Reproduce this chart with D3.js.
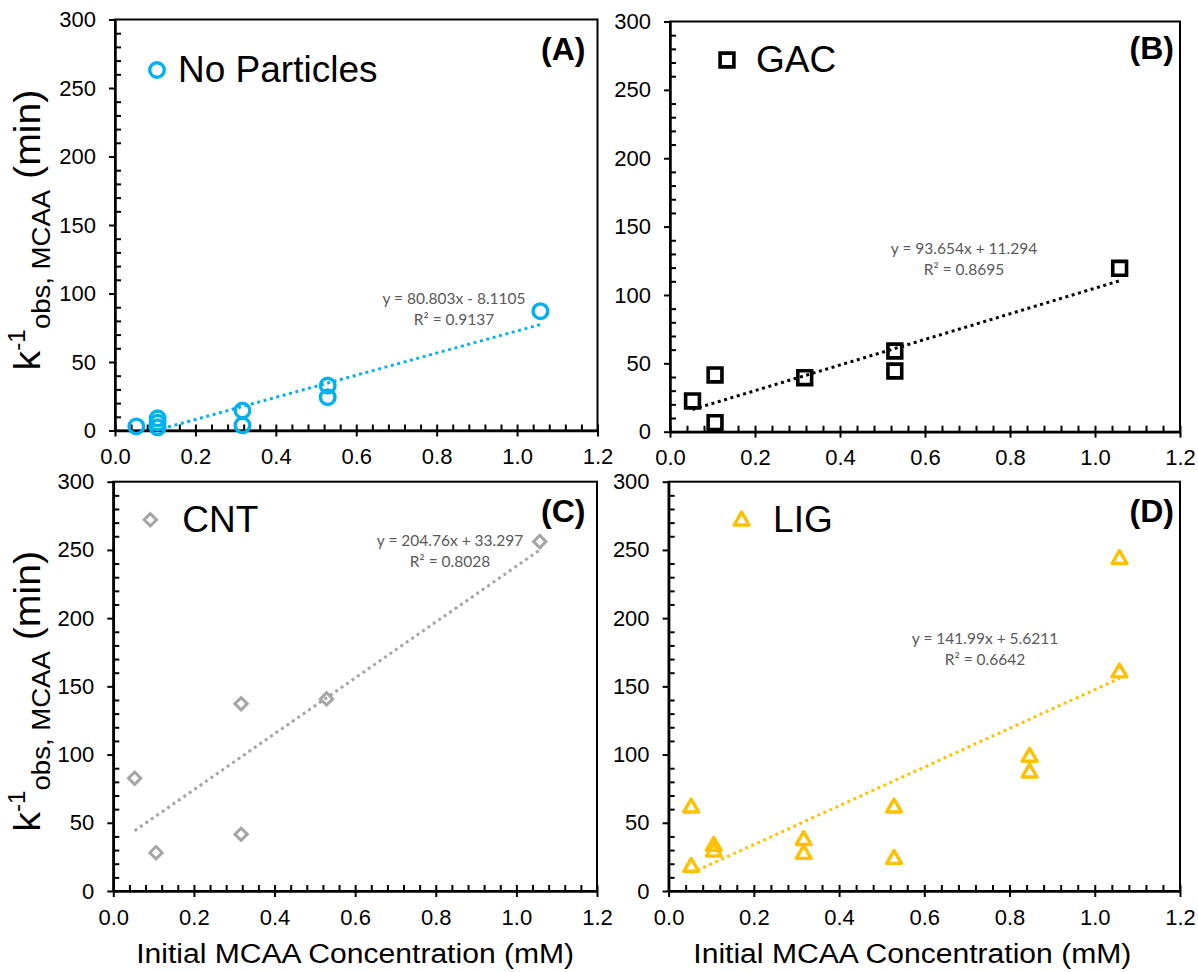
<!DOCTYPE html>
<html>
<head>
<meta charset="utf-8">
<script src="https://cdn.jsdelivr.net/npm/d3@7"></script>
<style>
  body { margin: 0; background: #fff; }
  svg { display: block; font-family: "Liberation Sans", Arial, sans-serif; }
  .tick text { font-size: 22px; fill: #000; }
  .eq { font-family: Lato, "Open Sans", sans-serif; font-size: 15.5px; fill: #595959; }
</style>
</head>
<body>
<svg width="1198" height="972"></svg>
<script>
// tick labels
const xTicks = [0, 0.2, 0.4, 0.6, 0.8, 1.0, 1.2];
const yTicks = [0, 50, 100, 150, 200, 250, 300];

// initial MCAA (mM) vs 1/k_obs (min)
const noPartX = [0.053, 0.106, 0.106, 0.106, 0.317, 0.317, 0.529, 0.529, 1.058];
const noPartY = [3.0, 8.9, 5.7, 2.3, 14.6, 3.8, 32.8, 24.3, 87.1];
const gacX = [0.053, 0.106, 0.106, 0.317, 0.529, 0.529, 1.058];
const gacY = [22.5, 41.5, 6.6, 39.5, 59.0, 44.4, 119.5];
const cntX = [0.053, 0.106, 0.317, 0.317, 0.529, 1.058];
const cntY = [82.6, 28.1, 137.3, 41.6, 140.8, 256.1];
const ligX = [0.053, 0.053, 0.106, 0.106, 0.317, 0.317, 0.529, 0.529, 0.847, 0.847, 1.058, 1.058];
const ligY = [61.8, 18.3, 33.7, 29.5, 38.0, 27.8, 61.8, 24.1, 99.0, 87.4, 243.9, 160.8];

// linear trendlines as printed on the chart
const fitSlope = [80.803, 93.654, 204.76, 141.99];
const fitIntercept = [-8.1105, 11.294, 33.297, 5.6211];
const fitEq = ["y = 80.803x - 8.1105", "y = 93.654x + 11.294", "y = 204.76x + 33.297", "y = 141.99x + 5.6211"];
const fitR2 = ["R\u00B2 = 0.9137", "R\u00B2 = 0.8695", "R\u00B2 = 0.8028", "R\u00B2 = 0.6642"];

const seriesNames = ["No Particles", "GAC", "CNT", "LIG"];
const panelTags = ["(A)", "(B)", "(C)", "(D)"];

// layout of each panel (pixels)
var panels = [
  {x0: 115, x1: 597.5, y0: 19.5, y1: 430.5, xs: noPartX, ys: noPartY, color: "#00B0F0", shape: "circle",
   leg: [42, 50.5, 21], tag: [12, 40], eq: [454, 304], yTitle: true, xTitle: false},
  {x0: 670, x1: 1180, y0: 21.5, y1: 431.7, xs: gacX, ys: gacY, color: "#000000", shape: "square",
   leg: [57, 38.5, 29], tag: [6, 37], eq: [964, 254], yTitle: false, xTitle: false},
  {x0: 113.3, x1: 597, y0: 481.7, y1: 891, xs: cntX, ys: cntY, color: "#A5A5A5", shape: "diamond",
   leg: [37, 38, 32], tag: [11.5, 40.5], eq: [450, 546], yTitle: true, xTitle: true},
  {x0: 668.6, x1: 1180, y0: 481.7, y1: 891, xs: ligX, ys: ligY, color: "#FFC000", shape: "triangle",
   leg: [73, 38, 31.5], tag: [6, 40.5], eq: [985, 644], yTitle: false, xTitle: true}
];

var svg = d3.select("svg");

function marker(sel, shape, color) {
  if (shape == "circle") {
    sel.append("circle").attr("r", 7.3)
      .attr("fill", "none").attr("stroke", color).attr("stroke-width", 3.4);
  } else if (shape == "square") {
    sel.append("path").attr("d", d3.symbol(d3.symbolSquare, 190)())
      .attr("fill", "none").attr("stroke", color).attr("stroke-width", 3.6);
  } else if (shape == "diamond") {
    sel.append("path").attr("d", d3.symbol(d3.symbolSquare, 76)())
      .attr("transform", "rotate(45)")
      .attr("fill", "none").attr("stroke", color).attr("stroke-width", 3);
  } else {
    sel.append("path").attr("d", d3.symbol(d3.symbolTriangle, 95)())
      .attr("transform", "translate(0,1)")
      .attr("fill", "none").attr("stroke", color).attr("stroke-width", 3.4)
      .attr("stroke-linejoin", "round");
  }
}

panels.forEach(function(p, i) {
  var w = p.x1 - p.x0, h = p.y1 - p.y0;
  var x = d3.scaleLinear().domain([0, 1.2]).range([0, w]);
  var y = d3.scaleLinear().domain([0, 300]).range([h, 0]);

  var g = svg.append("g").attr("transform", "translate(" + p.x0 + "," + p.y0 + ")");

  g.append("clipPath").attr("id", "clip" + i)
    .append("rect").attr("width", w).attr("height", h);

  // frame
  g.append("rect").attr("width", w).attr("height", h)
    .attr("fill", "none").attr("stroke", "#000").attr("stroke-width", 2);

  // y axis: major ticks outside, minor ticks inside
  var yMinor = d3.range(10, 300, 10).filter(v => v % 50 != 0);
  g.append("g").call(d3.axisLeft(y).tickValues(yTicks).tickSize(6).tickSizeOuter(0).tickPadding(13))
    .call(a => a.select(".domain").attr("stroke-width", 2.5));
  g.append("g").call(d3.axisRight(y).tickValues(yMinor).tickSize(6).tickSizeOuter(0).tickFormat(""))
    .call(a => a.select(".domain").remove());

  // x axis: major ticks cross the line, minor ticks inside
  var xMinor = d3.range(1, 30).map(k => k * 0.04).filter(v => Math.abs(v / 0.2 - Math.round(v / 0.2)) > 1e-6);
  g.append("g").attr("transform", "translate(0," + h + ")")
    .call(d3.axisBottom(x).tickValues(xTicks).tickSize(6).tickSizeOuter(0).tickFormat(d3.format(".1f")))
    .call(a => a.select(".domain").attr("stroke-width", 2.5))
    .call(a => a.selectAll(".tick text").attr("y", i < 2 ? 33 : 34).attr("dy", 0));
  g.append("g").attr("transform", "translate(0," + h + ")")
    .call(d3.axisTop(x).tickValues(xTicks).tickSize(6).tickSizeOuter(0).tickFormat(""))
    .call(a => a.select(".domain").remove());
  g.append("g").attr("transform", "translate(0," + h + ")")
    .call(d3.axisTop(x).tickValues(xMinor).tickSize(6).tickSizeOuter(0).tickFormat(""))
    .call(a => a.select(".domain").remove());
  g.selectAll(".tick line").attr("stroke-width", 2);

  // trendline between min and max x, clipped to the plot
  var ext = d3.extent(p.xs);
  var fit = ext.map(v => [v, fitSlope[i] * v + fitIntercept[i]]);
  g.append("path").datum(fit)
    .attr("clip-path", "url(#clip" + i + ")")
    .attr("d", d3.line().x(d => x(d[0])).y(d => y(d[1])))
    .attr("fill", "none").attr("stroke", p.color).attr("stroke-width", 3)
    .attr("stroke-dasharray", "3,3.6");

  // points
  g.selectAll(".pt").data(d3.zip(p.xs, p.ys)).enter().append("g")
    .attr("class", "pt")
    .attr("transform", d => "translate(" + x(d[0]) + "," + y(d[1]) + ")")
    .each(function() { marker(d3.select(this), p.shape, p.color); });

  // equation labels
  var eq = svg.append("text").attr("class", "eq").attr("text-anchor", "middle");
  eq.append("tspan").attr("x", p.eq[0]).attr("y", p.eq[1]).text(fitEq[i]);
  eq.append("tspan").attr("x", p.eq[0]).attr("y", p.eq[1] + 21).text(fitR2[i]);

  // legend
  var lg = g.append("g").attr("transform", "translate(" + p.leg[0] + "," + p.leg[1] + ")");
  marker(lg, p.shape, p.color);
  lg.append("text").attr("x", p.leg[2]).attr("y", 12)
    .attr("font-size", 37).text(seriesNames[i]);

  // panel tag
  g.append("text").attr("x", w - p.tag[0]).attr("y", p.tag[1])
    .attr("text-anchor", "end").attr("font-size", 32).attr("font-weight", "bold")
    .text(panelTags[i]);

  if (p.yTitle) {
    var t = svg.append("text")
      .attr("transform", "translate(40," + (p.y0 + h / 2 + 5) + ") rotate(-90) scale(1.06,1)")
      .attr("text-anchor", "middle").attr("font-size", 37);
    t.append("tspan").text("k");
    t.append("tspan").attr("font-size", 23).attr("dy", -15).text("-1");
    t.append("tspan").attr("font-size", 26).attr("dy", 25).text("obs, MCAA");
    t.append("tspan").attr("dy", -10).text(" (min)");
  }
  if (p.xTitle) {
    svg.append("text").attr("x", p.x0 + w / 2 - (i == 3 ? 12 : 0)).attr("y", 963)
      .attr("text-anchor", "middle").attr("font-size", 27)
      .attr("textLength", 438).attr("lengthAdjust", "spacingAndGlyphs")
      .text("Initial  MCAA Concentration  (mM)");
  }
});
</script>
</body>
</html>
